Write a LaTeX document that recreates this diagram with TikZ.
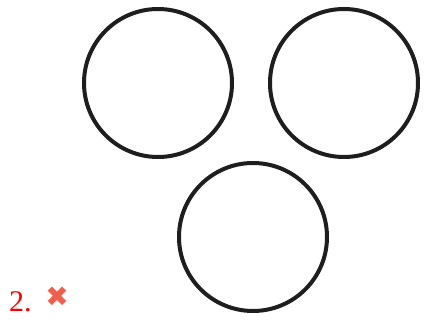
\documentclass[tikz,border=0pt]{standalone}
\usepackage{fontspec}
\setmainfont{Liberation Serif}
\newfontfamily\numfont{Liberation Serif}
\newfontfamily\symfont{DejaVu Sans}
\usepackage{xcolor}
\definecolor{ringgray}{RGB}{30,30,30}
\definecolor{numred}{RGB}{255,0,0}
\definecolor{crossred}{RGB}{240,95,75}
\usetikzlibrary{positioning}

\begin{document}
\begin{tikzpicture}[x=1pt, y=-1pt,
      ring/.style={draw=ringgray, circle, line width=4pt, minimum size=148pt, inner sep=0pt},
      lbl/.style={inner sep=0pt, font=\numfont\fontsize{30}{32}\selectfont}
    ]
    \useasboundingbox (0,0) rectangle (424,320);

    \node[ring] (left) at (158,83) {};
    \node[ring] (right) at (344,83) {};
    \node[ring] (bottom) at (253,237) {};

    \node[lbl, color=numred, anchor=base west] (num) at (9,312) {2.};
    \node[inner sep=0pt, color=crossred, font=\symfont\fontsize{28}{30}\selectfont] (mark) at (57,297) {✖};
  \end{tikzpicture}
\end{document}
